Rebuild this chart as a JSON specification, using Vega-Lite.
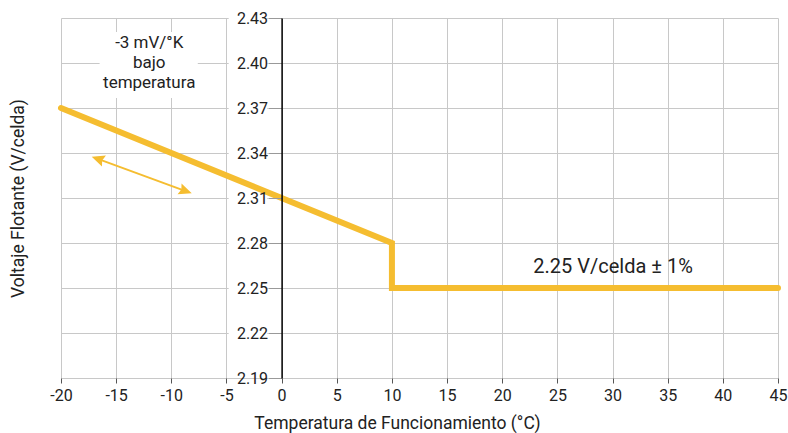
{
  "$schema": "https://vega.github.io/schema/vega-lite/v6.json",
  "width": 717,
  "height": 360,
  "autosize": {"type": "none"},
  "padding": {"left": 61, "top": 18, "right": 10, "bottom": 55},
  "background": "white",
  "config": {
    "view": {"stroke": null},
    "font": "Roboto",
    "axis": {"labelFont": "Roboto", "titleFont": "Roboto", "labelColor": "#222", "titleColor": "#222", "titleFontWeight": "normal", "gridColor": "#c8c8c8", "gridWidth": 1}
  },
  "resolve": {"axis": {"y": "independent"}},
  "layer": [
    {
      "data": {"values": [
        {"x": -4.8, "x2": -1.3, "y": 2.19, "y2": 2.43},
        {"x": -16.5, "x2": -7.6, "y": 2.3767, "y2": 2.4207}
      ]},
      "mark": {"type": "rect", "fill": "white", "stroke": null},
      "encoding": {
        "x": {"field": "x", "type": "quantitative",
          "scale": {"domain": [-20, 45], "nice": false, "zero": false},
          "axis": {"values": [-20, -15, -10, -5, 0, 5, 10, 15, 20, 25, 30, 35, 40, 45], "labelExpr": "toString(datum.value)", "labelFlush": false, "labelOverlap": false, "grid": true, "domain": false, "ticks": true, "tickSize": 5, "tickColor": "#555", "labelPadding": 4, "labelFontSize": 16, "title": "Temperatura de Funcionamiento (°C)", "titleFontSize": 17.5, "titleX": 336, "titleY": 50, "titleBaseline": "alphabetic", "titleAnchor": "middle", "titleAlign": "center"}},
        "x2": {"field": "x2"},
        "y": {"field": "y", "type": "quantitative",
          "scale": {"domain": [2.19, 2.43], "nice": false, "zero": false},
          "axis": {"orient": "left", "values": [2.19, 2.22, 2.25, 2.28, 2.31, 2.34, 2.37, 2.4, 2.43], "grid": true, "labels": false, "ticks": false, "domain": false, "zindex": 0, "title": "Voltaje Flotante (V/celda)", "titleFontSize": 17.5, "titleX": -34, "titleY": 180, "titleAngle": -90, "titleBaseline": "bottom", "titleAlign": "center"}},
        "y2": {"field": "y2"}
      }
    },
    {
      "data": {"values": [
        {"x": -20, "y": 2.37},
        {"x": 10, "y": 2.28},
        {"x": 10, "y": 2.25},
        {"x": 45, "y": 2.25}
      ]},
      "mark": {"type": "line", "color": "#F5BD30", "strokeWidth": 6, "strokeCap": "round", "strokeJoin": "miter"},
      "encoding": {
        "x": {"field": "x", "type": "quantitative"},
        "y": {"field": "y", "type": "quantitative",
          "axis": {"orient": "left", "values": [2.19, 2.22, 2.25, 2.28, 2.31, 2.34, 2.37, 2.4, 2.43], "format": ".2f", "grid": false, "offset": -220.6, "domain": true, "domainColor": "#000", "domainWidth": 1.5, "ticks": true, "tickSize": 13, "tickColor": "#999", "labelPadding": 1, "labelFontSize": 16, "labelFlush": false, "labelOverlap": false, "title": null, "zindex": 1}},
        "order": {"field": "x", "type": "quantitative"}
      }
    },
    {
      "data": {"values": [{"x": -16.66, "y": 2.3361, "x2": -8.7, "y2": 2.3146}]},
      "mark": {"type": "rule", "color": "#F5BD30", "strokeWidth": 2},
      "encoding": {
        "x": {"field": "x", "type": "quantitative"},
        "x2": {"field": "x2"},
        "y": {"field": "y", "type": "quantitative", "axis": null},
        "y2": {"field": "y2"}
      }
    },
    {
      "data": {"values": [{"x": -16.66, "y": 2.3361}]},
      "mark": {"type": "point", "shape": "M1,0L-1,-0.9L-0.7,0L-1,0.9Z", "filled": true, "color": "#F5BD30", "opacity": 1, "size": 169, "angle": 200},
      "encoding": {
        "x": {"field": "x", "type": "quantitative"},
        "y": {"field": "y", "type": "quantitative", "axis": null}
      }
    },
    {
      "data": {"values": [{"x": -8.7, "y": 2.3146}]},
      "mark": {"type": "point", "shape": "M1,0L-1,-0.9L-0.7,0L-1,0.9Z", "filled": true, "color": "#F5BD30", "opacity": 1, "size": 169, "angle": 20},
      "encoding": {
        "x": {"field": "x", "type": "quantitative"},
        "y": {"field": "y", "type": "quantitative", "axis": null}
      }
    },
    {
      "data": {"values": [{"x": -12, "y": 2.4133, "label": "-3 mV/°K\nbajo\ntemperatura"}]},
      "mark": {"type": "text", "fontSize": 17, "color": "#222", "lineBreak": "\n", "lineHeight": 20, "align": "center", "baseline": "middle"},
      "encoding": {
        "x": {"field": "x", "type": "quantitative"},
        "y": {"field": "y", "type": "quantitative", "axis": null},
        "text": {"field": "label"}
      }
    },
    {
      "data": {"values": [{"x": 30.05, "y": 2.264, "label": "2.25 V/celda ± 1%"}]},
      "mark": {"type": "text", "fontSize": 20, "color": "#222", "align": "center", "baseline": "middle"},
      "encoding": {
        "x": {"field": "x", "type": "quantitative"},
        "y": {"field": "y", "type": "quantitative", "axis": null},
        "text": {"field": "label"}
      }
    }
  ]
}
